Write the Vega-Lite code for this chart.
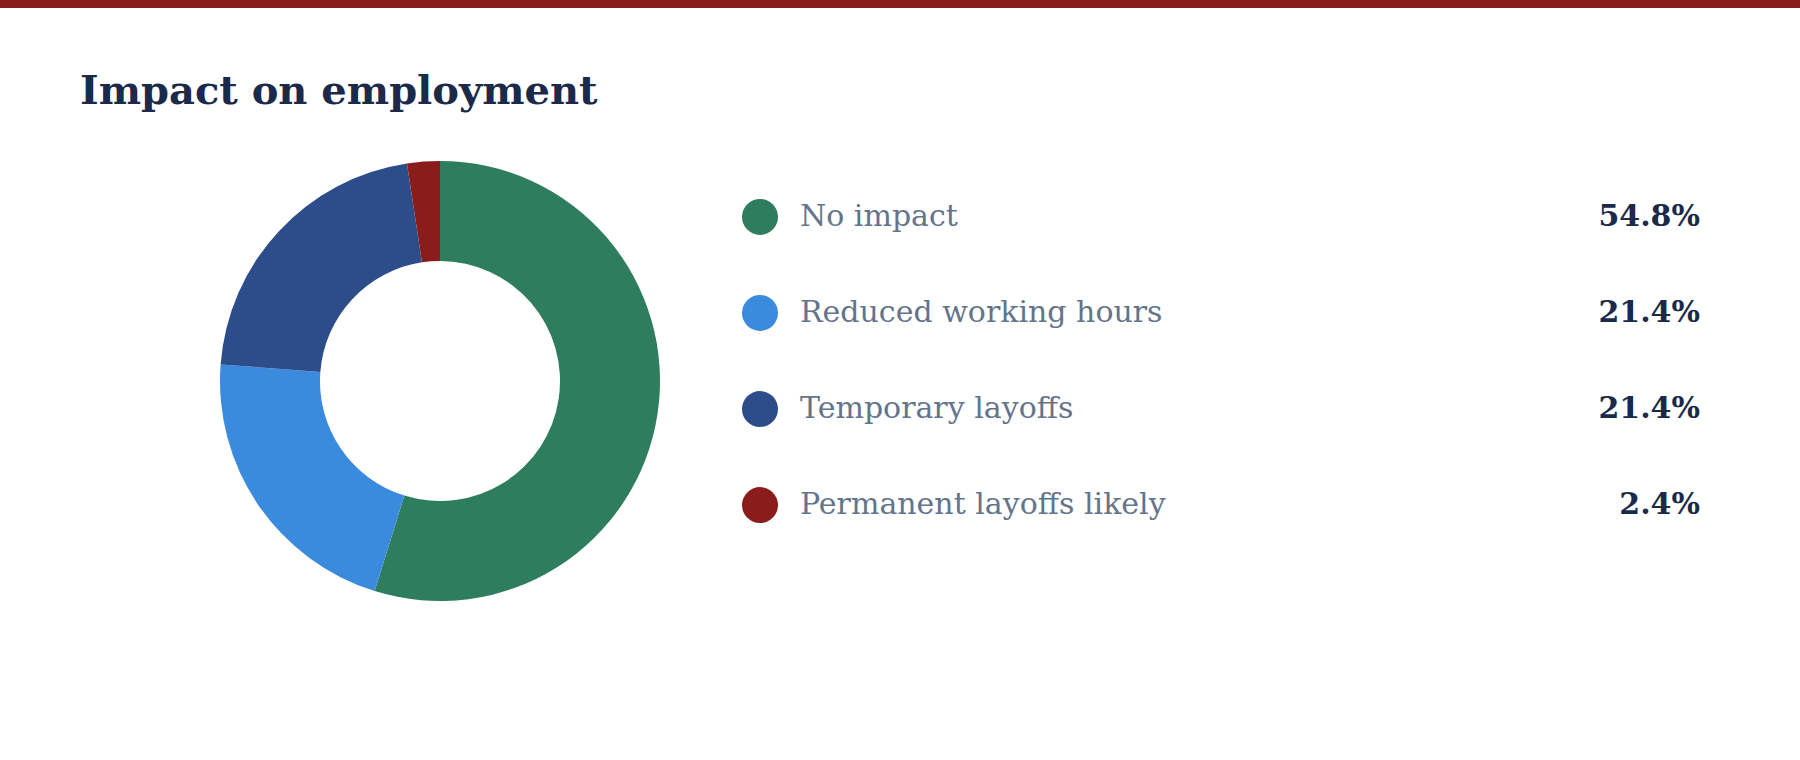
{
  "$schema": "https://vega.github.io/schema/vega-lite/v6.json",
  "background": "white",
  "padding": 0,
  "autosize": {"type": "pad"},
  "datasets": {
    "impact": [
      {"category": "No impact", "share": 0.548, "rank": 1},
      {"category": "Reduced working hours", "share": 0.214, "rank": 2},
      {"category": "Temporary layoffs", "share": 0.214, "rank": 3},
      {"category": "Permanent layoffs likely", "share": 0.024, "rank": 4}
    ]
  },
  "spacing": 64,
  "vconcat": [
    {
      "width": 1800,
      "height": 8,
      "view": {"fill": "#8B1C1C", "stroke": null},
      "mark": {"type": "rule", "opacity": 0},
      "encoding": {}
    },
    {
      "title": {
        "text": "Impact on employment",
        "anchor": "start",
        "frame": "group",
        "dx": 80,
        "offset": -3,
        "baseline": "alphabetic",
        "font": "DejaVu Serif",
        "fontSize": 40,
        "fontWeight": "bold",
        "color": "#1B2A4A"
      },
      "spacing": 60,
      "hconcat": [
        {
          "width": 140,
          "height": 10,
          "mark": {"type": "rule", "opacity": 0},
          "encoding": {}
        },
        {
          "width": 480,
          "height": 480,
          "data": {"name": "impact"},
          "mark": {"type": "arc", "outerRadius": 220, "innerRadius": 120},
          "encoding": {
            "theta": {"field": "share", "type": "quantitative", "stack": true},
            "order": {"field": "rank", "type": "quantitative"},
            "color": {
              "field": "category",
              "type": "nominal",
              "scale": {
                "domain": ["No impact", "Reduced working hours", "Temporary layoffs", "Permanent layoffs likely"],
                "range": ["#2E7D5E", "#3A8BDD", "#2C4C8A", "#8B1C1C"]
              },
              "legend": null
            }
          }
        },
        {
          "width": 960,
          "height": 440,
          "data": {"name": "impact"},
          "encoding": {
            "y": {
              "field": "category",
              "type": "nominal",
              "scale": {
                "type": "point",
                "domain": ["No impact", "Reduced working hours", "Temporary layoffs", "Permanent layoffs likely"],
                "padding": 0.79
              },
              "axis": null
            }
          },
          "layer": [
            {
              "mark": {"type": "point", "filled": true, "opacity": 1, "size": 1296, "x": 20},
              "encoding": {
                "color": {
                  "field": "category",
                  "type": "nominal",
                  "scale": {
                    "domain": ["No impact", "Reduced working hours", "Temporary layoffs", "Permanent layoffs likely"],
                    "range": ["#2E7D5E", "#3A8BDD", "#2C4C8A", "#8B1C1C"]
                  },
                  "legend": null
                }
              }
            },
            {
              "mark": {"type": "text", "align": "left", "x": 60, "font": "DejaVu Serif", "fontSize": 30, "color": "#64748B"},
              "encoding": {"text": {"field": "category", "type": "nominal"}}
            },
            {
              "mark": {"type": "text", "align": "right", "x": "width", "font": "DejaVu Serif", "fontSize": 30, "fontWeight": "bold", "color": "#1B2A4A"},
              "encoding": {"text": {"field": "share", "type": "quantitative", "format": ".1%"}}
            }
          ]
        }
      ]
    }
  ],
  "config": {"view": {"stroke": null}}
}
